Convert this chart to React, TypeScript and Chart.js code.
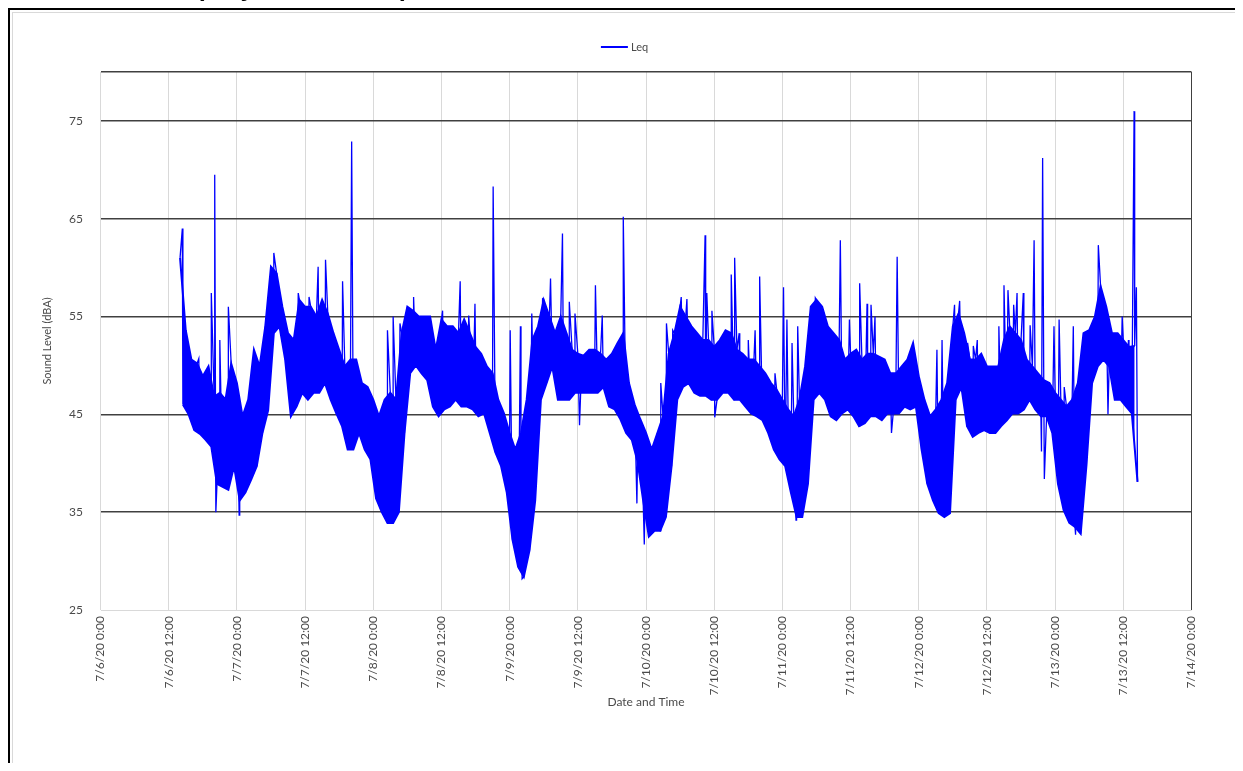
import React, { useEffect, useRef } from 'react';
import { Chart, registerables } from 'chart.js';

Chart.register(...registerables);

// Hours counted from 7/6/20 0:00
const SERIES_NAME = 'Leq';
const START_HOUR = 14;

// Dense band envelope, one pair per hour (upper edge, lower edge)
const BAND_HIGH = [
  61, 53.6, 50.6, 50.2, 48.9, 49.9, 46.8, 47.2, 46.5, 50.2,
  48.2, 44.8, 46.5, 51.6, 49.9, 54, 60.1, 59.4, 56, 53.3,
  52.6, 56.7, 56, 56, 55, 56.7, 55.3, 53.3, 51.6, 49.9,
  50.6, 50.6, 48.2, 47.8, 46.5, 44.8, 46.5, 47.2, 46.5, 53.3,
  56, 55.6, 55, 55, 55, 51.6, 54.7, 54, 54, 53.3,
  54.7, 53.3, 51.9, 51.2, 49.9, 49.2, 46.5, 45.1, 43.1, 41.4,
  43.1, 46.5, 52.6, 54, 56.7, 55, 53.3, 55, 53.3, 51.6,
  51.2, 51, 51.6, 51.6, 51.2, 50.6, 51.2, 52.3, 53.3, 48.2,
  46, 44.5, 43.1, 41.4, 43.1, 44.8, 51.2, 53.3, 56, 55,
  54, 53.3, 52.6, 52.6, 51.9, 52.6, 53.6, 53.3, 51.6, 51.2,
  50.6, 50.6, 49.9, 49.2, 48.2, 47.5, 46.5, 45.5, 44.8, 46.5,
  49.9, 56, 56.7, 56, 54, 53.3, 52.6, 50.6, 51.2, 51.6,
  50.6, 51.2, 51.2, 50.9, 50.6, 49.2, 49.2, 49.9, 50.6, 52.3,
  48.9, 46.5, 44.8, 45.5, 46.5, 48.2, 54, 55.3, 53.3, 50.6,
  50.6, 51.2, 49.9, 49.9, 49.9, 52.6, 54, 53.3, 52.6, 50.6,
  49.9, 49.2, 48.5, 48.2, 47.2, 46.5, 45.8, 46.5, 48.2, 53.3,
  53.6, 55, 58.1, 56, 53.3, 53.3, 52.6, 51.9, 52
];
const BAND_LOW = [
  46, 45, 43.4, 43, 42.4, 41.7, 37.9, 37.6, 37.3, 39.7,
  36.2, 37, 38.3, 39.7, 43.1, 45.4, 53.3, 54, 50.6, 44.8,
  45.8, 47.2, 46.5, 47.2, 47.2, 48.2, 46.5, 45.1, 43.8, 41.4,
  41.4, 43.1, 41.4, 40.4, 36.4, 35, 33.9, 33.9, 35, 43.1,
  49.2, 50, 49.2, 48.5, 45.8, 44.8, 45.5, 45.8, 46.5, 45.8,
  45.8, 45.5, 44.8, 45.1, 43.1, 41.1, 39.7, 37, 32.2, 29.4,
  28.4, 31.1, 36.2, 46.5, 48.2, 49.9, 46.5, 46.5, 46.5, 47.2,
  47.2, 47.2, 47.2, 47.2, 47.8, 45.8, 45.5, 44.5, 43.1, 42.4,
  40.2, 36.2, 32.5, 33.1, 33.1, 34.5, 39.7, 46.5, 47.8, 48.2,
  47.2, 46.9, 46.9, 46.5, 46.5, 47.2, 47.2, 46.5, 46.5, 45.8,
  45.1, 44.8, 44.4, 43.1, 41.4, 40.4, 39.7, 37, 34.5, 34.5,
  37.9, 46.5, 47.2, 46.5, 44.8, 44.4, 45.1, 45.5, 44.8, 43.8,
  44.1, 44.8, 44.8, 44.4, 45.1, 45.1, 45.1, 45.8, 45.5, 45.8,
  41.4, 37.9, 36.2, 34.9, 34.5, 34.9, 46.5, 47.8, 43.8, 42.7,
  43.1, 43.4, 43.1, 43.1, 43.8, 44.4, 45.1, 45.1, 45.5, 46.5,
  45.5, 44.8, 44.8, 43.1, 37.9, 35.2, 33.9, 33.5, 32.8, 39.7,
  48.2, 49.9, 50.6, 49.9, 46.5, 46.5, 45.8, 45.1, 38.1
];

// Isolated short events (spikes) standing out of the band
const SPIKE_HOURS = [
  14.4, 17.3, 19.5, 20.1, 20.3, 21.0, 22.5, 24.4, 30.5, 34.8,
  36.7, 38.3, 39.6, 42.6, 44.2, 50.5, 51.5, 52.7, 55.1, 60.2,
  63.3, 64.8, 65.9, 69.1, 72.1, 73.9, 74.2, 75.9, 77.8, 79.2,
  81.3, 82.5, 83.5, 84.3, 87.1, 88.3, 92.0, 94.4, 95.7, 98.6,
  99.6, 100.7, 102.2, 103.2, 106.4, 106.7, 107.6, 108.1, 111.0, 111.6,
  112.4, 114.0, 115.2, 116.0, 118.7, 120.2, 120.8, 121.7, 122.4, 122.7,
  125.8, 130.2, 131.8, 133.6, 134.9, 135.6, 136.3, 139.2, 140.2, 147.2,
  148.1, 150.3, 151.2, 152.6, 153.6, 154.3, 158.1, 159.0, 159.7, 160.7,
  161.3, 162.4, 163.6, 164.3, 165.6, 165.8, 166.1, 167.8, 168.7, 169.6,
  171.2, 171.6, 175.6, 177.3, 179.8, 180.9, 181.9, 182.3
];
const SPIKE_VALUES = [
  64, 50.7, 57.4, 69.5, 35, 52.6, 56, 34.7, 61.5, 57.4,
  57, 60.1, 60.8, 58.6, 72.9, 53.6, 55, 54.3, 57, 55.6,
  58.6, 55.1, 56.3, 68.3, 53.6, 54, 28.2, 55.3, 56.8, 58.9,
  63.5, 56.5, 55.3, 43.9, 58.2, 55.1, 65.2, 35.9, 31.7, 48.2,
  54.3, 53.6, 57, 56.8, 63.3, 57.4, 55.6, 44.7, 59.3, 61,
  53.3, 52.6, 53.6, 59.1, 49.2, 58, 54.7, 52.3, 34.2, 54,
  56.9, 62.8, 54.7, 58.4, 56.3, 56.2, 55, 43.1, 61.1, 51.6,
  52.6, 56.2, 56.6, 52.3, 52, 52.6, 54, 58.2, 57.7, 56.2,
  57.4, 57.4, 54.1, 62.8, 41.2, 71.2, 38.4, 54, 54.7, 47.8,
  54, 32.7, 62.3, 45, 55, 52.6, 76, 58
];

const X_TICK_HOURS = [0, 12, 24, 36, 48, 60, 72, 84, 96, 108, 120, 132, 144, 156, 168, 180, 192];
const X_TICK_LABELS = [
  '7/6/20 0:00', '7/6/20 12:00', '7/7/20 0:00', '7/7/20 12:00', '7/8/20 0:00',
  '7/8/20 12:00', '7/9/20 0:00', '7/9/20 12:00', '7/10/20 0:00', '7/10/20 12:00',
  '7/11/20 0:00', '7/11/20 12:00', '7/12/20 0:00', '7/12/20 12:00', '7/13/20 0:00',
  '7/13/20 12:00', '7/14/20 0:00'
];
const Y_TICKS = [25, 35, 45, 55, 65, 75, 80];
const Y_TICK_LABELS = ['25', '35', '45', '55', '65', '75', ''];

const FONT_FAMILY = 'Lato, "Open Sans", sans-serif';
const TEXT_COLOR = '#4a4a4a';
const BLUE = '#0000ff';

function buildLinePoints() {
  const pts: { x: number; y: number }[] = [];
  for (let i = 0; i < BAND_HIGH.length; i++) {
    const t = START_HOUR + i;
    pts.push({ x: t, y: BAND_HIGH[i] });
    pts.push({ x: t + 0.5, y: BAND_LOW[i] });
  }
  for (let j = 0; j < SPIKE_HOURS.length; j++) {
    pts.push({ x: SPIKE_HOURS[j], y: SPIKE_VALUES[j] });
  }
  pts.sort((a, b) => a.x - b.x);
  return pts;
}

const upperPoints = () => BAND_HIGH.map((v, i) => ({ x: START_HOUR + i, y: v }));
const lowerPoints = () => BAND_LOW.map((v, i) => ({ x: START_HOUR + i + 0.5, y: v }));

const legendPlugin = {
  id: 'topLegend',
  afterDraw(chart: any) {
    const ctx = chart.ctx;
    ctx.save();
    ctx.font = `11px ${FONT_FAMILY}`;
    const tw = ctx.measureText(SERIES_NAME).width;
    const lineLen = 27;
    const gap = 3;
    const total = lineLen + gap + tw;
    const x0 = chart.width / 2 - total / 2;
    const y = 34;
    ctx.strokeStyle = BLUE;
    ctx.lineWidth = 2;
    ctx.beginPath();
    ctx.moveTo(x0, y);
    ctx.lineTo(x0 + lineLen, y);
    ctx.stroke();
    ctx.fillStyle = TEXT_COLOR;
    ctx.textBaseline = 'middle';
    ctx.textAlign = 'left';
    ctx.fillText(SERIES_NAME, x0 + lineLen + gap, y);
    ctx.restore();
  },
};

export default function App() {
  const canvasRef = useRef<HTMLCanvasElement | null>(null);

  useEffect(() => {
    if (!canvasRef.current) return;
    const chart = new Chart(canvasRef.current, {
      type: 'line',
      data: {
        datasets: [
          {
            label: SERIES_NAME,
            data: buildLinePoints(),
            borderColor: BLUE,
            backgroundColor: BLUE,
            borderWidth: 1.3,
            pointRadius: 0,
            tension: 0,
            fill: false,
          },
          {
            label: 'band-upper',
            data: upperPoints(),
            borderColor: BLUE,
            backgroundColor: BLUE,
            borderWidth: 2,
            pointRadius: 0,
            tension: 0,
            fill: '+1',
          },
          {
            label: 'band-lower',
            data: lowerPoints(),
            borderColor: BLUE,
            backgroundColor: BLUE,
            borderWidth: 2,
            pointRadius: 0,
            tension: 0,
            fill: false,
          },
        ],
      },
      options: {
        animation: false,
        responsive: false,
        devicePixelRatio: 1,
        events: [],
        layout: { padding: { left: 28, right: 44.5, top: 59, bottom: 56.4 } },
        plugins: {
          legend: { display: false },
          tooltip: { enabled: false },
        },
        scales: {
          x: {
            type: 'linear',
            min: 0,
            max: 192,
            afterBuildTicks: (s: any) => {
              s.ticks = X_TICK_HOURS.map((v) => ({ value: v }));
            },
            afterFit: (s: any) => {
              s.height = 99.6;
            },
            ticks: {
              autoSkip: false,
              minRotation: 90,
              maxRotation: 90,
              padding: 6,
              color: TEXT_COLOR,
              font: { family: FONT_FAMILY, size: 12 },
              callback: (_v: any, i: number) => X_TICK_LABELS[i],
            },
            grid: {
              drawTicks: false,
              lineWidth: 1,
              color: (c: any) => (c.tick && c.tick.value === 192 ? '#404040' : '#d9d9d9'),
            },
            border: { display: false },
            title: {
              display: true,
              text: 'Date and Time',
              color: TEXT_COLOR,
              font: { family: FONT_FAMILY, size: 12 },
              padding: 0,
            },
          },
          y: {
            type: 'linear',
            min: 25,
            max: 80,
            afterBuildTicks: (s: any) => {
              s.ticks = Y_TICKS.map((v) => ({ value: v }));
            },
            afterFit: (s: any) => {
              s.width = 59.5;
            },
            ticks: {
              padding: 17.5,
              color: TEXT_COLOR,
              font: { family: FONT_FAMILY, size: 12 },
              callback: (_v: any, i: number) => Y_TICK_LABELS[i],
            },
            grid: {
              drawTicks: false,
              lineWidth: (c: any) => (c.tick && c.tick.value === 25 ? 1 : 1.5),
              color: (c: any) => (c.tick && c.tick.value === 25 ? '#d9d9d9' : '#404040'),
            },
            border: { display: false },
            title: {
              display: true,
              text: 'Sound Level (dBA)',
              color: TEXT_COLOR,
              font: { family: FONT_FAMILY, size: 11 },
              padding: 0,
            },
          },
        },
      },
      plugins: [legendPlugin],
    } as any);
    return () => chart.destroy();
  }, []);

  return (
    <div style={{ position: 'relative', width: 1235, height: 755 }}>
      <div
        style={{
          position: 'fixed',
          left: 196,
          top: -25,
          height: 25,
          fontFamily: '"Liberation Sans", Arial, sans-serif',
          fontWeight: 700,
          fontSize: 25,
          lineHeight: '25px',
          whiteSpace: 'nowrap',
          color: '#000',
          zIndex: 10,
        }}
      >
        (July 6 – 13, 2020)
      </div>
      <div
        style={{
          position: 'absolute',
          left: -1,
          top: -1,
          width: 1236,
          height: 3,
          background: '#000',
        }}
      />
      <div
        style={{
          position: 'absolute',
          left: -1,
          top: -1,
          width: 3,
          height: 772,
          background: '#000',
        }}
      />
      <div
        style={{
          position: 'absolute',
          left: 4,
          top: 4,
          width: 1225,
          height: 755,
          boxSizing: 'border-box',
          border: '1px solid #d9d9d9',
          background: '#fff',
        }}
      >
        <canvas ref={canvasRef} width={1223} height={753} style={{ display: 'block' }} />
      </div>
    </div>
  );
}
